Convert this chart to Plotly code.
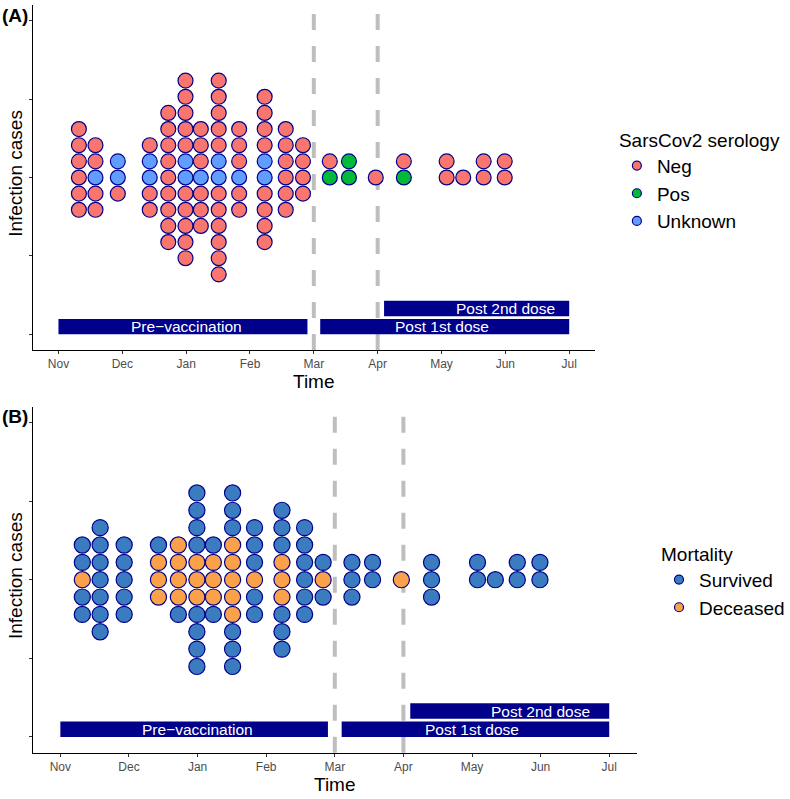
import plotly.graph_objects as go

# ---------------- data ----------------
month_labels = ["Nov", "Dec", "Jan", "Feb", "Mar", "Apr", "May", "Jun", "Jul"]
month_pos = [0, 1, 2, 3, 4, 5, 6, 7, 8]

# weekly bin centres (months since 1 Nov)
bin_x = [0.32, 0.58, 0.93, 1.43, 1.72, 1.99, 2.23, 2.51, 2.83, 3.23,
         3.56, 3.83, 4.25, 4.55, 4.97, 5.41, 6.08, 6.34, 6.66, 6.99]

# panel A: serology of each case per bin, stack read top -> bottom
serology_levels = ["Neg", "Pos", "Unknown"]
serology_codes = ["N", "P", "U"]
serology_stacks = ["NNNNNN", "NNUNN", "UUN", "NUUNN", "NNNNNNNNN",
                   "NNNNNUUNNNNN", "NNNUNNN", "NNNNNUUNNNNNN", "NNNUNN",
                   "NNNNUUNNNN", "NNNNNN", "NNNN", "NP", "PP", "N", "NP",
                   "NN", "N", "NN", "NN"]

# panel B: mortality of each case per bin, stack read top -> bottom
mortality_levels = ["Survived", "Deceased"]
mortality_codes = ["S", "D"]
mortality_stacks = ["SSDSS", "SSSSSSS", "SSSSS", "SDDD", "DDDDS",
                    "SSSSDDDSSSS", "SDDDS", "SSSDDDDDSSS", "SSSDSS",
                    "SSSDDDSSS", "SSSSSS", "SDS", "SSS", "SS", "D", "SSS",
                    "SS", "S", "SS", "SS"]

# vaccination periods
period_labels = ["Pre\u2212vaccination", "Post 1st dose", "Post 2nd dose"]
period_start = [0.0, 4.1, 5.1]
period_end = [3.9, 8.0, 8.0]
period_row = [0, 0, 1]
period_text_x = [2, 6, 7]
dose_lines = [4, 5]

# ---------------- style ----------------
W, H = 790, 799
FONT = "Liberation Sans, Arial, Helvetica, sans-serif"
serology_colors = ["#F8766D", "#00BA38", "#619CFF"]
mortality_colors = ["#3A7CBF", "#FBA14A"]
edge = "#00008B"
bar_color = "#00008B"
binwidth = 0.25
xr = [-0.4, 8.4]
yr = [-0.05, 1.05]

# pixel boxes of the two panels: (left, right, top, bottom)
panels = [(33.3, 601.6, 5.0, 350.0), (33.3, 644.0, 406.7, 752.7)]

fig = go.Figure()
layout = dict(width=W, height=H, margin=dict(l=0, r=0, t=0, b=0),
              paper_bgcolor="white", plot_bgcolor="white",
              font=dict(family=FONT, color="black"), shapes=[], annotations=[])

def stack_points(stacks, codes):
    pts = {c: ([], []) for c in codes}
    for x, s in zip(bin_x, stacks):
        n = len(s)
        for i, c in enumerate(s):
            pts[c][0].append(x)
            pts[c][1].append(n // 2 - i)
    return pts

panel_defs = [
    ("A", serology_stacks, serology_codes, serology_levels, serology_colors),
    ("B", mortality_stacks, mortality_codes, mortality_levels, mortality_colors),
]

for k, (tag, stacks, codes, levels, colors) in enumerate(panel_defs):
    L, R, T, B = panels[k]
    xs = "x" if k == 0 else "x2"
    ys = "y" if k == 0 else "y2"
    xa = "xaxis" if k == 0 else "xaxis2"
    ya = "yaxis" if k == 0 else "yaxis2"
    leg = "legend" if k == 0 else "legend2"
    px_x = (R - L) / (xr[1] - xr[0])
    px_y = (B - T) / (yr[1] - yr[0])
    dy = binwidth * px_x / px_y
    msize = binwidth * px_x - 1.2

    layout[xa] = dict(domain=[L / W, R / W], range=xr, anchor=ys,
                      tickvals=month_pos, ticktext=month_labels,
                      showline=True, linecolor="black", linewidth=1,
                      ticks="outside", ticklen=3, tickcolor="#333333",
                      tickfont=dict(size=12, color="#4D4D4D"),
                      showgrid=False, zeroline=False, fixedrange=True)
    layout[ya] = dict(domain=[1 - B / H, 1 - T / H], range=yr, anchor=xs,
                      tickvals=[0, 0.25, 0.5, 0.75, 1.0], showticklabels=False,
                      showline=True, linecolor="black", linewidth=1,
                      ticks="outside", ticklen=3, tickcolor="#333333",
                      showgrid=False, zeroline=False, fixedrange=True)

    # dashed vaccination lines (drawn bottom -> top like ggplot)
    for xv in dose_lines:
        layout["shapes"].append(dict(type="line", xref=xs, yref=ys + " domain",
                                     x0=xv, x1=xv, y0=0, y1=1, layer="below",
                                     line=dict(color="#BEBEBE", width=4, dash="16px,16px")))
    # period bars
    for lab, s0, s1, row, tx in zip(period_labels, period_start, period_end,
                                     period_row, period_text_x):
        y0 = row * 0.058
        y1 = y0 + 0.049
        layout["shapes"].append(dict(type="rect", xref=xs, yref=ys,
                                     x0=s0, x1=s1, y0=y0, y1=y1,
                                     fillcolor=bar_color, line=dict(width=0)))
        layout["annotations"].append(dict(x=tx, y=(y0 + y1) / 2, xref=xs, yref=ys,
                                          xanchor="center", yanchor="middle",
                                          text=lab, showarrow=False,
                                          font=dict(size=15.5, color="white", family=FONT)))

    pts = stack_points(stacks, codes)
    for c, lev, col in zip(codes, levels, colors):
        xsv, offs = pts[c]
        fig.add_trace(go.Scatter(
            x=xsv, y=[0.5 + o * dy for o in offs], mode="markers",
            xaxis=xs, yaxis=ys, showlegend=False, hoverinfo="skip",
            marker=dict(size=msize, color=col, line=dict(color=edge, width=1.2))))
        fig.add_trace(go.Scatter(
            x=[None], y=[None], mode="markers", name=lev, legend=leg,
            xaxis=xs, yaxis=ys, showlegend=True,
            marker=dict(size=9, color=col, line=dict(color=edge, width=1.2))))

    # axis titles and panel tag
    layout["annotations"].append(dict(x=(L + R) / 2 / W, y=1 - (B + 31.5) / H, xref="paper", yref="paper",
                                      xanchor="center", yanchor="middle",
                                      text="Time", showarrow=False,
                                      font=dict(size=19, family=FONT, color="black")))
    layout["annotations"].append(dict(x=15.5 / W, y=1 - ((T + B) / 2 - 4) / H, xref="paper", yref="paper",
                                      xanchor="center", yanchor="middle",
                                      text="Infection cases", showarrow=False, textangle=-90,
                                      font=dict(size=19, family=FONT, color="black")))
    layout["annotations"].append(dict(x=0, y=1 - (T + 10) / H, xref="paper", yref="paper",
                                      xanchor="left", yanchor="middle",
                                      text="<b>(%s)</b>" % tag, showarrow=False,
                                      font=dict(size=19, family=FONT, color="black")))

layout["legend"] = dict(x=624 / W, y=1 - 122 / H, xanchor="left", yanchor="top",
                        title=dict(text="SarsCov2 serology", font=dict(size=19)),
                        font=dict(size=19), bgcolor="rgba(0,0,0,0)", tracegroupgap=0)
layout["legend2"] = dict(x=667 / W, y=1 - 536 / H, xanchor="left", yanchor="top",
                         title=dict(text="Mortality", font=dict(size=19)),
                         font=dict(size=19), bgcolor="rgba(0,0,0,0)", tracegroupgap=0)

fig.update_layout(**layout)
fig.write_html("out.html", config={"displayModeBar": False},
               post_script="document.body.style.margin='0px';")
